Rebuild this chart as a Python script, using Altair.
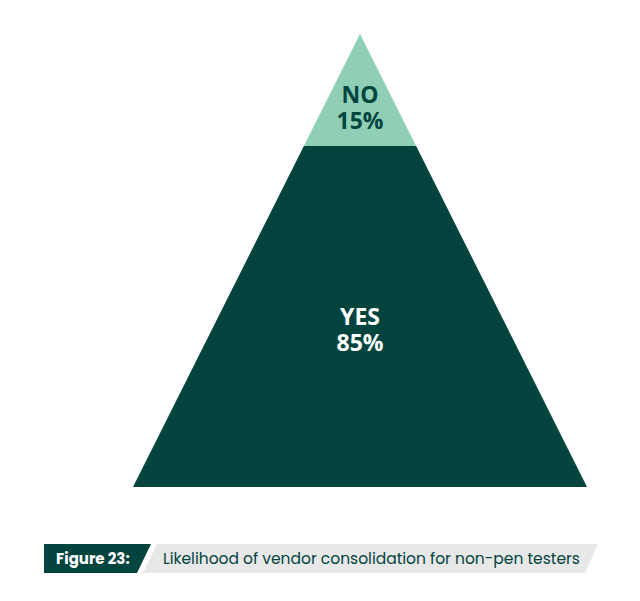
import altair as alt
import pandas as pd

# data
categories = ["NO", "YES"]
values = [15, 85]
caption_tag = "Figure 23:"
caption_text = "Likelihood of vendor consolidation for non-pen testers"

# layout (chart pixel space)
W, H = 624, 585
APEX_X, APEX_Y = 352, 26
BASE_Y = 479
HALF_W = 227
SPLIT_Y = 138
DARK = "#03443f"
LIGHT = "#8ecfb5"

def half_width(y):
    return HALF_W * (y - APEX_Y) / (BASE_Y - APEX_Y)

segments = [(APEX_Y, SPLIT_Y), (SPLIT_Y, BASE_Y)]
rows = []
for cat, val, (y0, y1) in zip(categories, values, segments):
    for y in (y0, y1):
        rows.append({"cat": cat, "y": y, "xl": APEX_X - half_width(y), "xr": APEX_X + half_width(y)})
tri = pd.DataFrame(rows)

label_centres = [101, 323]
lab_rows = []
for c, v, yc in zip(categories, values, label_centres):
    lab_rows.append({"cat": c, "t": c, "x": APEX_X, "y": yc - 13})
    lab_rows.append({"cat": c, "t": f"{v}%", "x": APEX_X, "y": yc + 13})
labels = pd.DataFrame(lab_rows)

xs = alt.Scale(domain=[0, W], range=[0, W])
ys = alt.Scale(domain=[0, H], range=[0, H])

pyramid = alt.Chart(tri).mark_area(orient="horizontal", interpolate="linear").encode(
    y=alt.Y("y:Q", scale=ys, axis=None),
    x=alt.X("xl:Q", scale=xs, axis=None),
    x2="xr:Q",
    detail="cat:N",
    color=alt.Color("cat:N", scale=alt.Scale(domain=categories, range=[LIGHT, DARK]), legend=None),
)

text = alt.Chart(labels).mark_text(
    font="Open Sans", fontWeight="bold", fontSize=23, baseline="middle"
).encode(
    x=alt.X("x:Q", scale=xs, axis=None),
    y=alt.Y("y:Q", scale=ys, axis=None),
    text="t:N",
    color=alt.Color("cat:N", scale=alt.Scale(domain=categories, range=[DARK, "white"]), legend=None),
)

cap = pd.DataFrame([
    {"box": "tag", "y": 536, "xl": 36, "xr": 143},
    {"box": "tag", "y": 565, "xl": 36, "xr": 129},
    {"box": "bar", "y": 536, "xl": 149, "xr": 590},
    {"box": "bar", "y": 565, "xl": 135, "xr": 577},
])
cap_boxes = alt.Chart(cap).mark_area(orient="horizontal", interpolate="linear").encode(
    y=alt.Y("y:Q", scale=ys, axis=None),
    x=alt.X("xl:Q", scale=xs, axis=None),
    x2="xr:Q",
    detail="box:N",
    fill=alt.Fill("box:N", scale=alt.Scale(domain=["tag", "bar"], range=[DARK, "#e8e8e8"]), legend=None),
)

cap_txt = pd.DataFrame([
    {"t": caption_tag, "x": 48, "y": 551, "kind": "tag"},
    {"t": caption_text, "x": 155, "y": 551, "kind": "bar"},
])
cap_tag = alt.Chart(cap_txt[cap_txt.kind == "tag"]).mark_text(
    font="Poppins, Lato", fontWeight="bold", fontSize=15, align="left", baseline="middle", color="white"
).encode(x=alt.X("x:Q", scale=xs, axis=None), y=alt.Y("y:Q", scale=ys, axis=None), text="t:N")
cap_main = alt.Chart(cap_txt[cap_txt.kind == "bar"]).mark_text(
    font="Poppins, Lato", fontSize=15.5, align="left", baseline="middle", color=DARK
).encode(x=alt.X("x:Q", scale=xs, axis=None), y=alt.Y("y:Q", scale=ys, axis=None), text="t:N")

chart = alt.layer(pyramid, text, cap_boxes, cap_tag, cap_main).resolve_scale(
    color="independent", fill="independent"
).properties(
    width=W, height=H, autosize=alt.AutoSizeParams(type="none"), padding=0
).configure_view(stroke=None)

chart.save("out.html", embed_options={"renderer": "svg", "actions": False})
